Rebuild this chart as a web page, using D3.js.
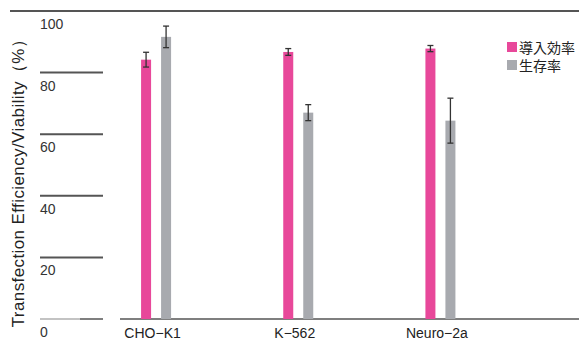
<!DOCTYPE html>
<html><head><meta charset="utf-8">
<script src="https://cdn.jsdelivr.net/npm/d3@7/dist/d3.min.js"></script>
<style>body{margin:0;background:#fff}svg{display:block}</style>
</head><body><div id="chart"></div>
<script>
const categories = ["CHO−K1", "K−562", "Neuro−2a"];
const seriesNames = ["導入効率", "生存率"];
const efficiency = [84.2, 86.7, 87.8];
const efficiencyErr = [2.4, 1.1, 1.0];
const viability = [91.6, 67.0, 64.4];
const viabilityErr = [3.5, 2.6, 7.3];
const yTicks = [0, 20, 40, 60, 80, 100];

const W = 585, H = 338;
const pink = "#E8489A", gray = "#A8AAAF", lineC = "#555";
const svg = d3.select("#chart").append("svg").attr("width", W).attr("height", H);

const y = d3.scaleLinear().domain([0, 100]).range([319, 11]);
const x = d3.scaleBand().domain(categories).range([84.5, 511]).padding(0);
const xs = d3.scaleBand().domain(seriesNames).range([-14.5, 15.5]).paddingInner(0.5);

const font = "'Liberation Sans', Arial, sans-serif";

svg.append("line").attr("x1", 10).attr("x2", 579).attr("y1", y(100)).attr("y2", y(100))
  .attr("stroke", lineC).attr("stroke-width", 2);
yTicks.filter(t => t > 0 && t < 100).forEach(t => {
  svg.append("line").attr("x1", 40).attr("x2", 103).attr("y1", y(t)).attr("y2", y(t))
    .attr("stroke", lineC).attr("stroke-width", 2);
});
svg.append("line").attr("x1", 40).attr("x2", 80).attr("y1", y(0)).attr("y2", y(0))
  .attr("stroke", "#888").attr("stroke-width", 1.2);
svg.append("line").attr("x1", 80).attr("x2", 103).attr("y1", y(0)).attr("y2", y(0))
  .attr("stroke", lineC).attr("stroke-width", 1.5);
svg.append("line").attr("x1", 120).attr("x2", 579).attr("y1", y(0)).attr("y2", y(0))
  .attr("stroke", lineC).attr("stroke-width", 1.5);

svg.selectAll("text.tick").data(yTicks).enter().append("text")
  .attr("x", 40).attr("y", d => y(d) + 18)
  .attr("font-family", font).attr("font-size", 14).attr("fill", "#333")
  .text(d => d);

const series = [
  {name: seriesNames[0], vals: efficiency, errs: efficiencyErr, color: pink},
  {name: seriesNames[1], vals: viability, errs: viabilityErr, color: gray}
];
series.forEach(s => {
  const g = svg.append("g");
  categories.forEach((c, i) => {
    const cx = x(c) + x.bandwidth() / 2 + xs(s.name);
    const bw = xs.bandwidth();
    g.append("rect").attr("x", cx).attr("y", y(s.vals[i])).attr("width", bw)
      .attr("height", y(0) - y(s.vals[i])).attr("fill", s.color);
    const mx = cx + bw / 2;
    const y1 = y(s.vals[i] + s.errs[i]), y2 = y(s.vals[i] - s.errs[i]);
    g.append("line").attr("x1", mx).attr("x2", mx).attr("y1", y1).attr("y2", y2)
      .attr("stroke", "#333").attr("stroke-width", 1.3);
    [y1, y2].forEach(yy => g.append("line").attr("x1", mx - 3).attr("x2", mx + 3)
      .attr("y1", yy).attr("y2", yy).attr("stroke", "#333").attr("stroke-width", 1.3));
  });
});

svg.selectAll("text.cat").data(categories).enter().append("text")
  .attr("x", d => x(d) + x.bandwidth() / 2 - 3).attr("y", 338)
  .attr("text-anchor", "middle").attr("font-family", font).attr("font-size", 14)
  .attr("fill", "#222").text(d => d);

svg.append("text").attr("transform", "translate(24,179) rotate(-90)")
  .attr("text-anchor", "middle").attr("font-family", font).attr("font-size", 17)
  .attr("letter-spacing", 0.4)
  .attr("fill", "#222").text("Transfection Efficiency/Viability（%）");

const lg = svg.append("g").attr("transform", "translate(507,42)");
series.forEach((s, i) => {
  lg.append("rect").attr("x", 0).attr("y", i * 18).attr("width", 10).attr("height", 10).attr("fill", s.color);
  lg.append("text").attr("x", 12).attr("y", i * 18 + 10.5)
    .attr("font-family", "'Noto Sans CJK JP', sans-serif").attr("font-size", 14)
    .attr("fill", "#222").text(s.name);
});
</script></body></html>
